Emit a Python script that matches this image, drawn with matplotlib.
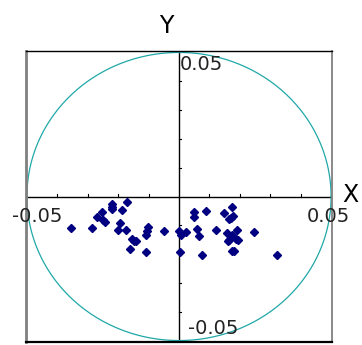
import numpy as np
import matplotlib
matplotlib.use("Agg")
import matplotlib.pyplot as plt

# data
x_vals = [-0.0354, -0.0287, -0.0269, -0.0254, -0.0249, -0.0244, -0.0221, -0.0219, -0.0221,
          -0.0170, -0.0188, -0.0193, -0.0201, -0.0173, -0.0101, -0.0106, -0.0110, -0.0154,
          -0.0148, -0.0140, -0.0161, -0.0110, -0.0050, -0.0001,
          0.0005, 0.0024, 0.0002, 0.0048, 0.0048, 0.0090, 0.0060, 0.0065, 0.0077, 0.0123,
          0.0147, 0.0173, 0.0178, 0.0171, 0.0165, 0.0157, 0.0191, 0.0173, 0.0178, 0.0189,
          0.0193, 0.0160, 0.0166, 0.0173, 0.0180, 0.0247, 0.0323]
y_vals = [-0.0108, -0.0108, -0.0070, -0.0053, -0.0083, -0.0090, -0.0025, -0.0035, -0.0044,
          -0.0019, -0.0048, -0.0091, -0.0115, -0.0115, -0.0105, -0.0119, -0.0132, -0.0148,
          -0.0153, -0.0156, -0.0181, -0.0191, -0.0119, -0.0119,
          -0.0133, -0.0123, -0.0191, -0.0055, -0.0070, -0.0052, -0.0113, -0.0137, -0.0202,
          -0.0115, -0.0056, -0.0037, -0.0066, -0.0073, -0.0078, -0.0128, -0.0115, -0.0135,
          -0.0138, -0.0147, -0.0152, -0.0156, -0.0150, -0.0189, -0.0189, -0.0123, -0.0202]
circle_radius = 0.05
tick_vals = [-0.04, -0.03, -0.02, -0.01, 0.01, 0.02, 0.03, 0.04]
end_labels = ['-0.05', '0.05']

plt.rcParams['font.family'] = ['DejaVu Sans']

W, H = 362, 345
fig = plt.figure(figsize=(W/100, H/100), dpi=100)
ax = fig.add_axes([26/W, 3/H, 306/W, 291/H])
ax.set_xlim(-0.0503, 0.0503)
ax.set_ylim(-0.0505, 0.0505)

# spines
ax.spines['left'].set_color('#808080'); ax.spines['left'].set_linewidth(2.0)
ax.spines['right'].set_color('#808080'); ax.spines['right'].set_linewidth(1.3)
ax.spines['top'].set_color('black'); ax.spines['top'].set_linewidth(1.0)
ax.spines['bottom'].set_color('black'); ax.spines['bottom'].set_linewidth(1.6)
ax.set_xticks([]); ax.set_yticks([])

# circle
t = np.linspace(0, 2*np.pi, 400)
ax.plot(circle_radius*np.cos(t), circle_radius*np.sin(t), color='#20a8a8', lw=0.9, zorder=2)

# central axes
ax.axhline(0, color='black', lw=1.0, zorder=1)
ax.axvline(0, color='black', lw=1.0, zorder=1)
tlx = 0.0006
tly = 0.0009
for v in tick_vals:
    ax.plot([v, v], [0, tly], color='black', lw=0.8, zorder=1)
    ax.plot([0, tlx], [v, v], color='black', lw=0.8, zorder=1)

# points
ax.plot(x_vals, y_vals, linestyle='none', marker='D', markersize=4.2,
        color='#000080', zorder=3)

# labels (pixel positions from top-left)
def ftext(px, py, s, **kw):
    fig.text(px/W, 1 - py/H, s, **kw)

fs = 14
col = '#222222'
ftext(12, 221.7, end_labels[0], ha='left', va='baseline', fontsize=fs, color=col)
ftext(307, 221.7, end_labels[1], ha='left', va='baseline', fontsize=fs, color=col)
ftext(180, 70, end_labels[1], ha='left', va='baseline', fontsize=fs, color=col)
ftext(188, 334, end_labels[0], ha='left', va='baseline', fontsize=fs, color=col)
ftext(350.5, 201.7, 'X', ha='center', va='baseline', fontsize=17, color='black')
ftext(166, 32.7, 'Y', ha='center', va='baseline', fontsize=17, color='black')

fig.savefig('out.png', dpi=100)
